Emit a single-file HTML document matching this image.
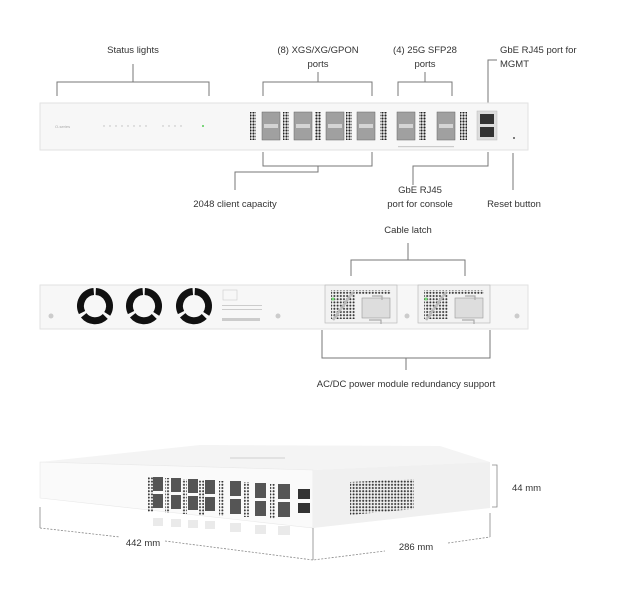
<!DOCTYPE html>
<html><head><meta charset="utf-8"><style>
html,body{margin:0;padding:0;background:#fff}
svg{display:block}
text{font-family:"Liberation Sans",sans-serif;font-size:9.5px;fill:#333}
</style></head><body>
<svg width="621" height="596" viewBox="0 0 621 596" xmlns="http://www.w3.org/2000/svg">
<defs>
<pattern id="vent" width="3" height="3" patternUnits="userSpaceOnUse"><circle cx="1.5" cy="1.5" r="1.1" fill="#222"/></pattern>
<pattern id="vent2" width="3.2" height="3.2" patternUnits="userSpaceOnUse"><circle cx="1.6" cy="1.6" r="1" fill="#333"/></pattern>
</defs>
<g stroke="#777" stroke-width="1" fill="none">
<path d="M57 96V82H209V96M133 82V64"/>
<path d="M263 96V82H372V96M318 82V72"/>
<path d="M398 96V82H452V96M425 82V72"/>
<path d="M488 103V60H497"/>
<path d="M263 152V166H372V152M318 166V172H235V190"/>
<path d="M488 152V166H413V185"/>
<path d="M513 153V190"/>
<path d="M351 276V260H465V276M408 260V243"/>
<path d="M322 330V358H490V330M406 358V370"/>
</g>
<text x="133" y="53" text-anchor="middle">Status lights</text>
<text x="318" y="53" text-anchor="middle">(8) XGS/XG/GPON</text>
<text x="318" y="67" text-anchor="middle">ports</text>
<text x="425" y="53" text-anchor="middle">(4) 25G SFP28</text>
<text x="425" y="67" text-anchor="middle">ports</text>
<text x="500" y="53">GbE RJ45 port for</text>
<text x="500" y="67">MGMT</text>
<text x="235" y="207" text-anchor="middle">2048 client capacity</text>
<text x="420" y="193" text-anchor="middle">GbE RJ45</text>
<text x="420" y="207" text-anchor="middle">port for console</text>
<text x="514" y="207" text-anchor="middle">Reset button</text>
<text x="408" y="233" text-anchor="middle">Cable latch</text>
<text x="406" y="387" text-anchor="middle">AC/DC power module redundancy support</text>

<rect x="40" y="103" width="488" height="47" fill="#f7f7f7" stroke="#e2e2e2"/>
<text x="55" y="128" style="font-size:4px;fill:#aaa">O-series</text>
<g fill="#bbb"><circle cx="104" cy="126" r=".7"/><circle cx="110" cy="126" r=".7"/><circle cx="116" cy="126" r=".7"/><circle cx="122" cy="126" r=".7"/><circle cx="128" cy="126" r=".7"/><circle cx="134" cy="126" r=".7"/><circle cx="140" cy="126" r=".7"/><circle cx="146" cy="126" r=".7"/><circle cx="163" cy="126" r=".7"/><circle cx="169" cy="126" r=".7"/><circle cx="175" cy="126" r=".7"/><circle cx="181" cy="126" r=".7"/></g>
<circle cx="203" cy="126" r="1" fill="#5c5"/>
<g fill="url(#vent)">
<rect x="250" y="112" width="6" height="28"/><rect x="283" y="112" width="6" height="28"/><rect x="315" y="112" width="6" height="28"/><rect x="346" y="112" width="6" height="28"/><rect x="380" y="112" width="7" height="28"/><rect x="419" y="112" width="7" height="28"/><rect x="460" y="112" width="7" height="28"/>
</g>
<g fill="#a0a0a0" stroke="#666" stroke-width=".5">
<rect x="262" y="112" width="18" height="28"/><rect x="294" y="112" width="18" height="28"/><rect x="326" y="112" width="18" height="28"/><rect x="357" y="112" width="18" height="28"/>
<rect x="397" y="112" width="18" height="28"/><rect x="437" y="112" width="18" height="28"/>
</g>
<g fill="#d4d4d4"><rect x="264" y="124" width="14" height="4"/><rect x="296" y="124" width="14" height="4"/><rect x="328" y="124" width="14" height="4"/><rect x="359" y="124" width="14" height="4"/><rect x="399" y="124" width="14" height="4"/><rect x="439" y="124" width="14" height="4"/></g>
<rect x="477" y="111" width="20" height="29" fill="#ddd" stroke="#bbb" stroke-width=".5"/>
<rect x="480" y="114" width="14" height="10" fill="#333"/><rect x="480" y="127" width="14" height="10" fill="#333"/>
<rect x="398" y="146" width="56" height="1.2" fill="#ccc"/>
<circle cx="514" cy="138" r="1" fill="#555"/>

<rect x="40" y="285" width="488" height="44" fill="#f7f7f7" stroke="#e2e2e2"/>
<g fill="#ccc"><circle cx="51" cy="316" r="2.5"/><circle cx="278" cy="316" r="2.5"/><circle cx="407" cy="316" r="2.5"/><circle cx="517" cy="316" r="2.5"/></g>
<g fill="none" stroke="#111" stroke-width="7">
<path d="M95 291.5A14.5 14.5 0 0 1 107.6 313.2M105.8 315.9A14.5 14.5 0 0 1 84.2 315.9M82.4 313.2A14.5 14.5 0 0 1 93 291.6" transform="rotate(3 95 306)"/>
<path d="M144 291.5A14.5 14.5 0 0 1 156.6 313.2M154.8 315.9A14.5 14.5 0 0 1 133.2 315.9M131.4 313.2A14.5 14.5 0 0 1 142 291.6" transform="rotate(3 144 306)"/>
<path d="M194 291.5A14.5 14.5 0 0 1 206.6 313.2M204.8 315.9A14.5 14.5 0 0 1 183.2 315.9M181.4 313.2A14.5 14.5 0 0 1 192 291.6" transform="rotate(3 194 306)"/>
</g>
<rect x="223" y="290" width="14" height="10" fill="none" stroke="#ccc" stroke-width=".6"/>
<g fill="#ccc"><rect x="222" y="305" width="40" height="1"/><rect x="222" y="309" width="40" height="1"/><rect x="222" y="318" width="38" height="3"/></g>
<g>
<rect x="325" y="285" width="72" height="38" fill="#f2f2f2" stroke="#bbb" stroke-width=".7"/>
<rect x="418" y="285" width="72" height="38" fill="#f2f2f2" stroke="#bbb" stroke-width=".7"/>
<g fill="url(#vent2)"><rect x="331" y="290" width="24" height="29"/><rect x="356" y="290" width="35" height="4"/><rect x="424" y="290" width="24" height="29"/><rect x="449" y="290" width="35" height="4"/></g>
<rect x="362" y="298" width="28" height="20" fill="#ddd" stroke="#999" stroke-width=".6"/>
<rect x="455" y="298" width="28" height="20" fill="#ddd" stroke="#999" stroke-width=".6"/>
<g stroke="#bbb" stroke-width="2.5" fill="none"><path d="M333 320L353 292"/><path d="M426 320L446 292"/></g>
<g stroke="#aaa" stroke-width="1.2" fill="none"><path d="M372 296h10v4M369 320h12v4"/><path d="M465 296h10v4M462 320h12v4"/></g>
<circle cx="333" cy="299" r="1.5" fill="#7d7"/><circle cx="426" cy="299" r="1.5" fill="#7d7"/>
</g>

<polygon points="40,462 200,445 440,446 490,462 313,470" fill="#f4f4f4"/>
<polygon points="40,462 313,470 313,528 40,498" fill="#fafafa" stroke="#e8e8e8" stroke-width=".6"/>
<polygon points="313,470 490,462 490,508 313,528" fill="#f0f0f0"/>
<rect x="230" y="457" width="55" height="2" fill="#e2e2e2"/>
<g fill="url(#vent2)">
<rect x="148" y="477" width="5" height="35"/><rect x="165" y="478" width="5" height="35"/><rect x="182" y="479" width="5" height="35"/><rect x="199" y="480" width="5" height="35"/><rect x="219" y="481" width="5" height="35"/><rect x="244" y="482" width="5" height="35"/><rect x="270" y="484" width="5" height="35"/>
<polygon points="350,482 414,479 414,509 350,515"/>
</g>
<g fill="#555">
<rect x="153" y="477" width="10" height="14"/><rect x="153" y="494" width="10" height="14"/>
<rect x="171" y="478" width="10" height="14"/><rect x="171" y="495" width="10" height="14"/>
<rect x="188" y="479" width="10" height="14"/><rect x="188" y="496" width="10" height="14"/>
<rect x="205" y="480" width="10" height="14"/><rect x="205" y="497" width="10" height="14"/>
<rect x="230" y="481" width="11" height="15"/><rect x="230" y="499" width="11" height="15"/>
<rect x="255" y="483" width="11" height="15"/><rect x="255" y="501" width="11" height="15"/>
<rect x="278" y="484" width="12" height="15"/><rect x="278" y="502" width="12" height="15"/>
</g>
<rect x="298" y="489" width="12" height="10" fill="#333"/><rect x="298" y="503" width="12" height="10" fill="#333"/>
<g fill="#ddd" opacity="0.6">
<rect x="153" y="518" width="10" height="8"/><rect x="171" y="519" width="10" height="8"/><rect x="188" y="520" width="10" height="8"/><rect x="205" y="521" width="10" height="8"/><rect x="230" y="523" width="11" height="9"/><rect x="255" y="525" width="11" height="9"/><rect x="278" y="526" width="12" height="9"/>
</g>
<g stroke="#888" stroke-width=".8" fill="none">
<path d="M492 465H497V507H492"/>
<path d="M40 507V528M313 528V560M490 513V537"/>
<path d="M40 528L120 537M165 541L313 560L385 551M448 543L490 537" stroke-dasharray="2 1.5"/>
</g>
<text x="512" y="491">44 mm</text>
<text x="143" y="546" text-anchor="middle">442 mm</text>
<text x="416" y="550" text-anchor="middle">286 mm</text>
</svg>
</body></html>
